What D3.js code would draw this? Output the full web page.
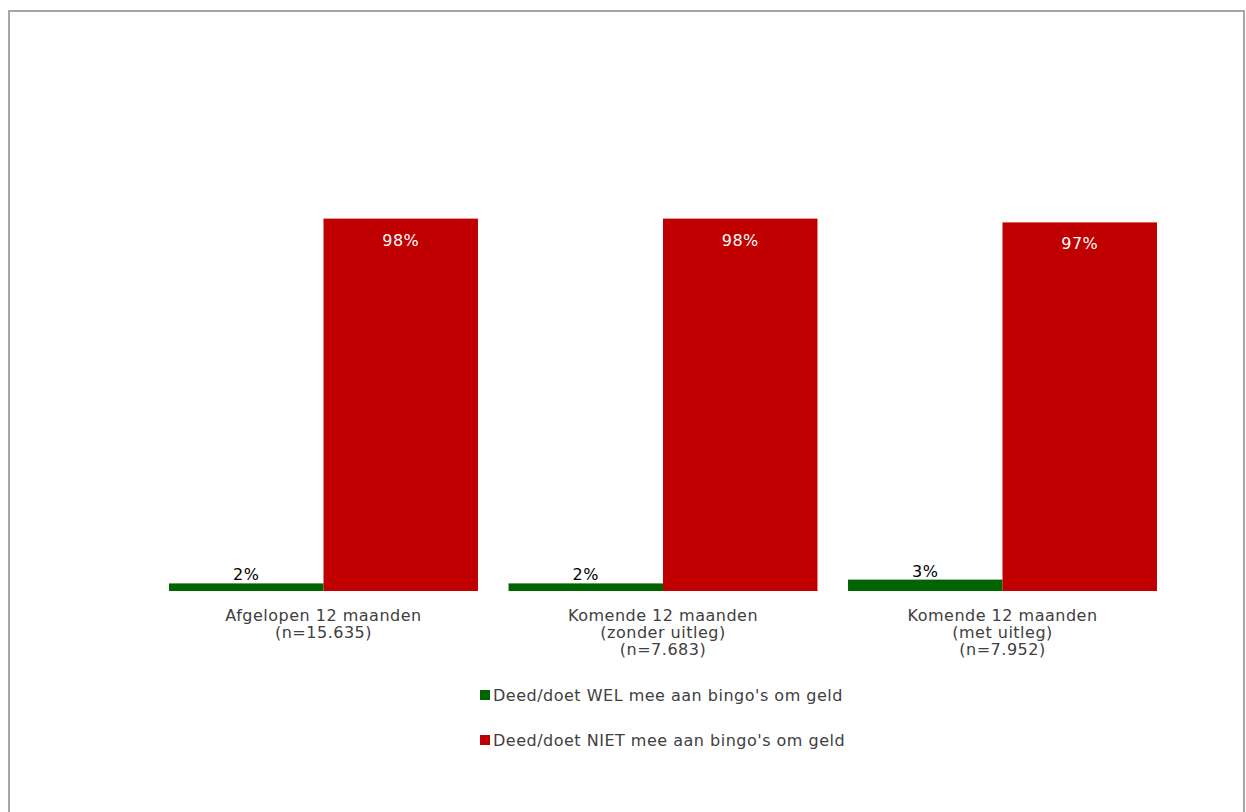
<!DOCTYPE html>
<html><head><meta charset="utf-8">
<script src="https://cdn.jsdelivr.net/npm/d3@7"></script>
<style>body{margin:0;background:#fff;} text{font-family:"DejaVu Sans",Verdana,sans-serif;letter-spacing:0.5px;}</style>
</head><body>
<svg id="c" width="1246" height="812"></svg>
<script>
const categories = [
  ["Afgelopen 12 maanden", "(n=15.635)"],
  ["Komende 12 maanden", "(zonder uitleg)", "(n=7.683)"],
  ["Komende 12 maanden", "(met uitleg)", "(n=7.952)"]
];
const seriesNames = ["Deed/doet WEL mee aan bingo's om geld", "Deed/doet NIET mee aan bingo's om geld"];
const welValues = [2, 2, 3];
const nietValues = [98, 98, 97];
const colors = ["#006400", "#c00000"];

const svg = d3.select("#c");
svg.append("rect").attr("x", 9).attr("y", 11).attr("width", 1235).attr("height", 810)
  .attr("fill", "none").attr("stroke", "#a6a6a6").attr("stroke-width", 2);

const x0 = d3.scaleBand().domain(d3.range(categories.length)).range([153.75, 1172.25]).paddingInner(0.09).paddingOuter(0.045);
const x1 = d3.scaleBand().domain([0, 1]).range([0, x0.bandwidth()]);
const y = d3.scaleLinear().domain([0, 100]).range([591, 211]);

const series = [welValues, nietValues];
const g = svg.append("g");
series.forEach((vals, s) => {
  vals.forEach((v, i) => {
    const bx = x0(i) + x1(s);
    g.append("rect").attr("x", bx).attr("y", y(v)).attr("width", x1.bandwidth()).attr("height", y(0) - y(v)).attr("fill", colors[s]);
    const t = g.append("text").attr("x", bx + x1.bandwidth() / 2).attr("text-anchor", "middle")
      .attr("font-size", 16).text(v + "%");
    if (s === 1) t.attr("y", y(v) + 27).attr("fill", "#fff");
    else t.attr("y", y(v) - 3).attr("fill", "#000");
  });
});

categories.forEach((lines, i) => {
  const t = svg.append("text").attr("text-anchor", "middle").attr("fill", "#404040").attr("font-size", 16);
  lines.forEach((l, j) => {
    t.append("tspan").attr("x", x0(i) + x0.bandwidth() / 2).attr("y", 621 + j * 17).text(l);
  });
});

seriesNames.forEach((n, s) => {
  const ly = 695 + s * 45;
  svg.append("rect").attr("x", 480).attr("y", ly - 5).attr("width", 10).attr("height", 10).attr("fill", colors[s]);
  svg.append("text").attr("x", 493).attr("y", ly + 6).attr("fill", "#404040").attr("font-size", 16).text(n);
});
</script>
</body></html>
